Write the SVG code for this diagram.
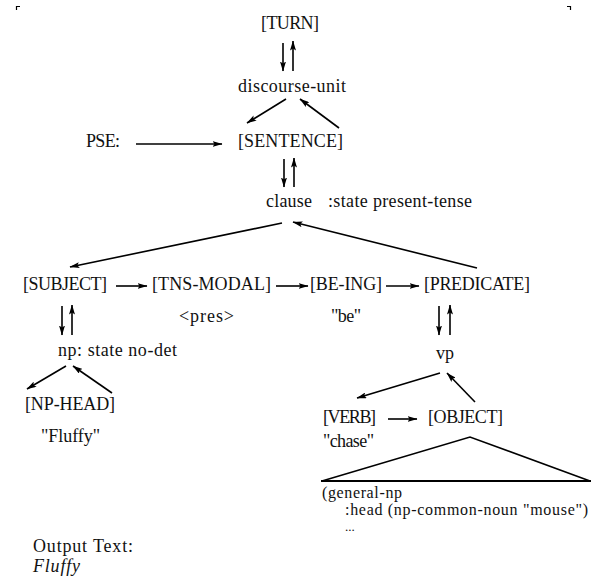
<svg xmlns="http://www.w3.org/2000/svg" width="599" height="577" viewBox="0 0 599 577">
  <style>
    text { font-family: "Liberation Serif", "Times New Roman", serif; font-size: 18px; fill: #111; }
    .it { font-style: italic; }
    .code { font-size: 16px; }
    .dots { font-size: 13px; }
    .edge { stroke: #000; stroke-width: 1.6; fill: none; marker-end: url(#head); }
    .tri { stroke: #000; stroke-width: 1.6; fill: none; }
    .base { stroke: #000; stroke-width: 2.2; }
    .crop { stroke: #000; stroke-width: 1.2; fill: none; }
  </style>
  <defs>
    <marker id="head" markerUnits="userSpaceOnUse" markerWidth="10" markerHeight="6" viewBox="0 0 10 6" refX="9.5" refY="3" orient="auto">
      <path d="M0,0 L10,3 L0,6 L2,3 z" fill="#000"/>
    </marker>
  </defs>
  <rect width="599" height="577" fill="#fff"/>

  <!-- crop marks -->
  <path class="crop" d="M16.5,10 V6.5 H20"/>
  <path class="crop" d="M567,6.5 H570.5 V10"/>

  <!-- nodes -->
  <g id="turn"><text x="261" y="29" textLength="58">[TURN]</text></g>
  <g id="discourse-unit"><text x="238" y="92" textLength="108">discourse-unit</text></g>
  <g id="pse"><text x="86" y="147" textLength="34">PSE:</text></g>
  <g id="sentence"><text x="238" y="147" textLength="105">[SENTENCE]</text></g>
  <g id="clause">
    <text x="266" y="207" textLength="46">clause</text>
    <text x="328" y="207" textLength="144">:state present-tense</text>
  </g>
  <g id="subject"><text x="23" y="290" textLength="84">[SUBJECT]</text></g>
  <g id="tns-modal">
    <text x="152" y="290" textLength="119">[TNS-MODAL]</text>
    <text x="179" y="322" textLength="55">&lt;pres&gt;</text>
  </g>
  <g id="be-ing">
    <text x="310" y="290" textLength="72">[BE-ING]</text>
    <text x="331" y="322" textLength="30">"be"</text>
  </g>
  <g id="predicate"><text x="424" y="290" textLength="106">[PREDICATE]</text></g>
  <g id="np"><text x="58" y="356" textLength="119">np: state no-det</text></g>
  <g id="vp"><text x="436" y="359">vp</text></g>
  <g id="np-head">
    <text x="25" y="410" textLength="90">[NP-HEAD]</text>
    <text x="41" y="442" textLength="59">"Fluffy"</text>
  </g>
  <g id="verb">
    <text x="323" y="423" textLength="53">[VERB]</text>
    <text x="323" y="447" textLength="51">"chase"</text>
  </g>
  <g id="object">
    <text x="428" y="423" textLength="75">[OBJECT]</text>
    <polyline class="tri" points="322,481 470,437 590,481"/>
    <line class="base" x1="321" y1="481" x2="591" y2="481"/>
    <text class="code" x="322" y="498" textLength="80">(general-np</text>
    <text class="code" x="345" y="515" textLength="243">:head (np-common-noun "mouse")</text>
    <text class="dots" x="345" y="531">...</text>
  </g>
  <g id="output">
    <text x="33" y="552" textLength="100">Output Text:</text>
    <text class="it" x="33" y="572" textLength="47">Fluffy</text>
  </g>

  <!-- connectors -->
  <g id="connectors">
    <line class="edge" x1="283" y1="43" x2="283" y2="71"/>
    <line class="edge" x1="293" y1="71" x2="293" y2="41"/>
    <line class="edge" x1="286" y1="99" x2="247" y2="123"/>
    <line class="edge" x1="339" y1="128" x2="300" y2="99"/>
    <line class="edge" x1="136" y1="144" x2="222" y2="144"/>
    <line class="edge" x1="284" y1="159" x2="284" y2="187"/>
    <line class="edge" x1="294" y1="187" x2="294" y2="158"/>
    <line class="edge" x1="282" y1="223" x2="70" y2="267"/>
    <line class="edge" x1="477" y1="268" x2="293" y2="222"/>
    <line class="edge" x1="116" y1="286" x2="147" y2="286"/>
    <line class="edge" x1="276" y1="286" x2="308" y2="286"/>
    <line class="edge" x1="386" y1="286" x2="419" y2="286"/>
    <line class="edge" x1="62" y1="306" x2="62" y2="335"/>
    <line class="edge" x1="72" y1="335" x2="72" y2="305"/>
    <line class="edge" x1="439" y1="306" x2="439" y2="335"/>
    <line class="edge" x1="450" y1="335" x2="450" y2="305"/>
    <line class="edge" x1="66" y1="366" x2="27" y2="389"/>
    <line class="edge" x1="112" y1="393" x2="73" y2="366"/>
    <line class="edge" x1="440" y1="373" x2="357" y2="398"/>
    <line class="edge" x1="475" y1="402" x2="447" y2="373"/>
    <line class="edge" x1="388" y1="419" x2="417" y2="419"/>
  </g>
</svg>
